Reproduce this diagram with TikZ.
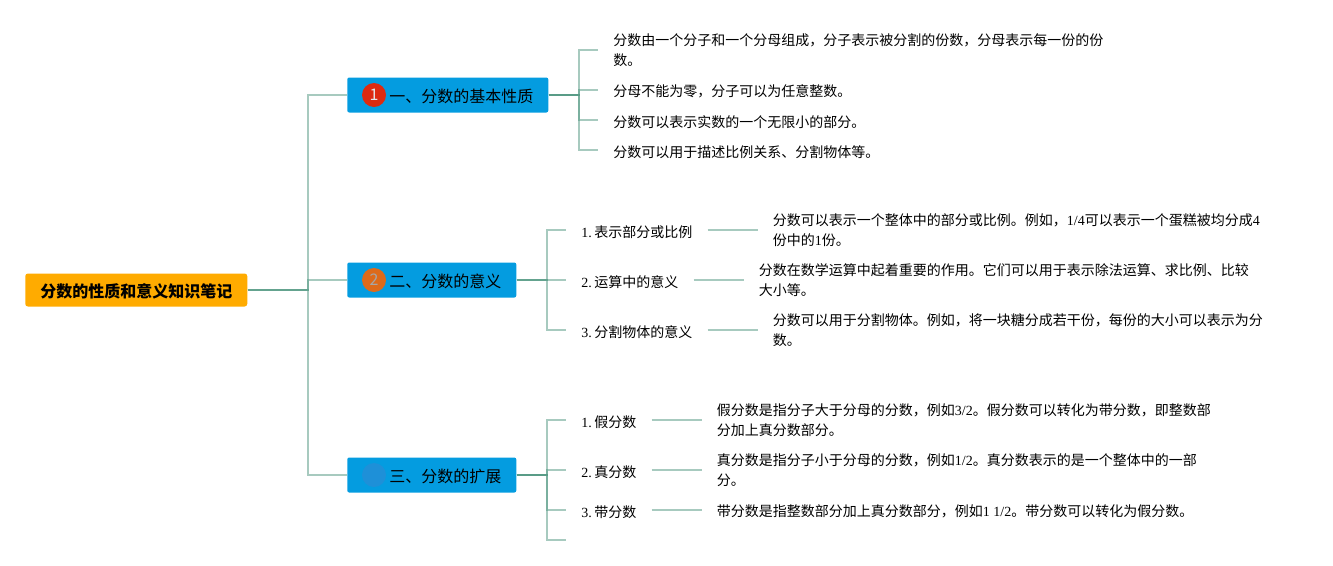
\documentclass[tikz,border=0pt]{standalone}
\usepackage{fontspec}
\setmainfont{Liberation Serif}
\newfontfamily\cjk{Noto Sans CJK SC}
\usetikzlibrary{positioning}
\definecolor{myroot}{HTML}{FFAB00}
\definecolor{mybranch}{HTML}{049CE0}
\definecolor{mylink}{HTML}{4F9680}
\definecolor{myred}{HTML}{DD2A10}
\definecolor{myorange}{HTML}{DD6A1A}
\definecolor{myblue}{HTML}{1E90D8}
\newcommand{\lat}[1]{{\rmfamily #1}}

\begin{document}
\begin{tikzpicture}[x=0.75pt, y=-0.75pt,
    link/.style={draw=mylink, opacity=0.5, line width=1.5pt},
    rootbox/.style={fill=myroot, rounded corners=2pt, anchor=west, minimum width=166.5pt, minimum height=24.75pt, inner sep=0pt, font=\cjk\bfseries\fontsize{12}{15}\selectfont, execute at begin node={\rule{0pt}{12pt}}},
    branchbox/.style={fill=mybranch, rounded corners=1.5pt, anchor=west, minimum height=26.25pt, inner xsep=11.25pt, inner ysep=0pt, align=right, font=\cjk\fontsize{12}{15}\selectfont, execute at begin node={\rule{0pt}{12pt}}},
    markbox/.style={circle, minimum size=18pt, inner sep=0pt, font=\cjk\fontsize{12}{15}\selectfont},
    leafbox/.style={anchor=west, inner xsep=11.25pt, inner ysep=0pt, align=left, font=\cjk\fontsize{10.5}{15}\selectfont, execute at begin node={\rule{0pt}{11.4pt}}},
    subbox/.style={anchor=west, inner xsep=11.25pt, inner ysep=0pt, font=\cjk\fontsize{10.5}{15}\selectfont, execute at begin node={\rule{0pt}{11.4pt}}}]
    \useasboundingbox (0,0) rectangle (1333,565);

    \node[rootbox] (root) at (25,290) {分数的性质和意义知识笔记};

    \node[branchbox, text width=128.25pt] (b1) at (347,95) {一、分数的基本性质};
    \node[branchbox, text width=104.25pt] (b2) at (347,280) {二、分数的意义};
    \node[branchbox, text width=104.25pt] (b3) at (347,475) {三、分数的扩展};

    \node[markbox, fill=myred, text=white!80!gray] (m1) at (374,95) {1};
    \node[markbox, fill=myorange, text=gray!70!white] (m2) at (374,280) {2};
    \node[markbox, fill=myblue] (m3) at (374,475) {};

    \node[leafbox] (p1) at (598,50) {分数由一个分子和一个分母组成，分子表示被分割的份数，分母表示每一份的份\\数。};
    \node[leafbox] (p2) at (598,90) {分母不能为零，分子可以为任意整数。};
    \node[leafbox] (p3) at (598,120) {分数可以表示实数的一个无限小的部分。};
    \node[leafbox] (p4) at (598,150) {分数可以用于描述比例关系、分割物体等。};

    \node[subbox] (s1) at (566,230) {\lat{1.}\hspace{2pt}表示部分或比例};
    \node[subbox] (s2) at (566,280) {\lat{2.}\hspace{2pt}运算中的意义};
    \node[subbox] (s3) at (566,330) {\lat{3.}\hspace{2pt}分割物体的意义};
    \node[leafbox, right=37.5pt of s1] (d1) {分数可以表示一个整体中的部分或比例。例如，\lat{1/4}可以表示一个蛋糕被均分成\lat{4}\\份中的\lat{1}份。};
    \node[leafbox, right=37.5pt of s2] (d2) {分数在数学运算中起着重要的作用。它们可以用于表示除法运算、求比例、比较\\大小等。};
    \node[leafbox, right=37.5pt of s3] (d3) {分数可以用于分割物体。例如，将一块糖分成若干份，每份的大小可以表示为分\\数。};

    \node[subbox] (t1) at (566,420) {\lat{1.}\hspace{2pt}假分数};
    \node[subbox] (t2) at (566,470) {\lat{2.}\hspace{2pt}真分数};
    \node[subbox] (t3) at (566,510) {\lat{3.}\hspace{2pt}带分数};
    \coordinate (t4) at (566,540);
    \node[leafbox, right=37.5pt of t1] (f1) {假分数是指分子大于分母的分数，例如\lat{3/2}。假分数可以转化为带分数，即整数部\\分加上真分数部分。};
    \node[leafbox, right=37.5pt of t2] (f2) {真分数是指分子小于分母的分数，例如\lat{1/2}。真分数表示的是一个整体中的一部\\分。};
    \node[leafbox, right=37.5pt of t3] (f3) {带分数是指整数部分加上真分数部分，例如\lat{1 1/2}。带分数可以转化为假分数。};

    \draw[link] (root.east) -- ++(60,0) |- (b1.west);
    \draw[link] (root.east) -- ++(60,0) |- (b2.west);
    \draw[link] (root.east) -- ++(60,0) |- (b3.west);

    \draw[link] (b1.east) -- ++(30,0) |- (p1.west);
    \draw[link] (b1.east) -- ++(30,0) |- (p2.west);
    \draw[link] (b1.east) -- ++(30,0) |- (p3.west);
    \draw[link] (b1.east) -- ++(30,0) |- (p4.west);

    \draw[link] (b2.east) -- ++(30,0) |- (s1.west);
    \draw[link] (b2.east) -- ++(30,0) |- (s2.west);
    \draw[link] (b2.east) -- ++(30,0) |- (s3.west);
    \draw[link] (s1) -- (d1);
    \draw[link] (s2) -- (d2);
    \draw[link] (s3) -- (d3);

    \draw[link] (b3.east) -- ++(30,0) |- (t1.west);
    \draw[link] (b3.east) -- ++(30,0) |- (t2.west);
    \draw[link] (b3.east) -- ++(30,0) |- (t3.west);
    \draw[link] (b3.east) -- ++(30,0) |- (t4);
    \draw[link] (t1) -- (f1);
    \draw[link] (t2) -- (f2);
    \draw[link] (t3) -- (f3);
\end{tikzpicture}
\end{document}
